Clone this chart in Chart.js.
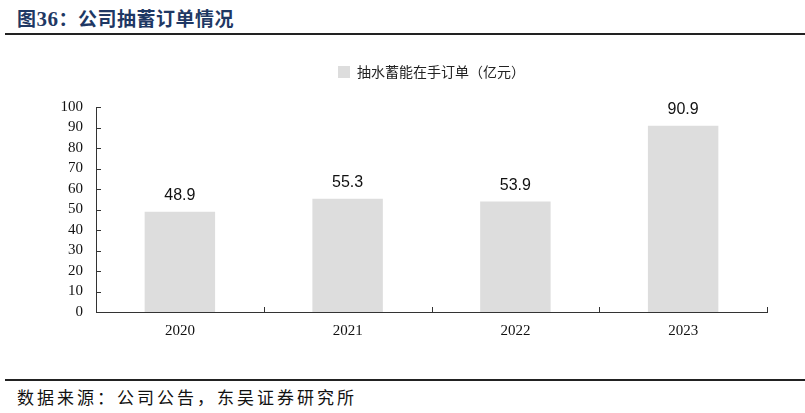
<!DOCTYPE html>
<html>
<head>
<meta charset="utf-8">
<script src="https://cdn.jsdelivr.net/npm/chart.js@4.4.1/dist/chart.umd.min.js"></script>
<style>
  html, body { margin: 0; padding: 0; background: #fff; }
  body { width: 805px; height: 413px; position: relative; overflow: hidden; }
  #title { position: absolute; left: 17px; top: 4px; font: bold 19px "Noto Sans CJK SC", sans-serif; color: #1f3864; letter-spacing: 0.5px; }
  #title .num { font-family: "Liberation Serif", serif; font-size: 21px; }
  #topline { position: absolute; left: 5px; right: 0; top: 33px; height: 2px; background: #222; }
  #botline { position: absolute; left: 5px; right: 0; top: 379px; height: 2px; background: #222; }
  #source { position: absolute; left: 17px; top: 384px; font: 17px "Noto Sans CJK SC", sans-serif; color: #111; letter-spacing: 3px; }
  #wrap { position: absolute; left: 0; top: 40px; width: 805px; height: 336px; }
</style>
</head>
<body>
<div id="title">图<span class="num">36</span>：公司抽蓄订单情况</div>
<div id="topline"></div>
<div id="wrap"><canvas id="barChart"></canvas></div>
<div id="botline"></div>
<div id="source">数据来源：公司公告，东吴证券研究所</div>
<script>
// Bar Chart

var years = ["2020", "2021", "2022", "2023"];
var orders = [48.9, 55.3, 53.9, 90.9];
var yTicks = [0, 10, 20, 30, 40, 50, 60, 70, 80, 90, 100];

// value labels above bars
var valueLabels = {
	id: 'valueLabels',
	afterDatasetsDraw: function(chart) {
		var c = chart.ctx;
		var meta = chart.getDatasetMeta(0);
		c.save();
		c.font = '16px "Liberation Sans", Arial, sans-serif';
		c.fillStyle = '#111';
		c.textAlign = 'center';
		c.textBaseline = 'bottom';
		meta.data.forEach(function(bar, i) {
			c.fillText(orders[i].toFixed(1), bar.x, bar.y - 8);
		});
		c.restore();
	}
};

// small ticks pointing into the plot
var innerTicks = {
	id: 'innerTicks',
	afterDraw: function(chart) {
		var c = chart.ctx;
		var x = chart.scales.x, y = chart.scales.y;
		c.save();
		c.strokeStyle = '#333';
		c.lineWidth = 1;
		c.beginPath();
		yTicks.forEach(function(v) {
			var py = Math.round(y.getPixelForValue(v)) + 0.5;
			c.moveTo(x.left, py);
			c.lineTo(x.left + 5, py);
		});
		for (var i = 0; i <= years.length; i++) {
			var px = Math.round(x.getPixelForValue(i - 0.5)) + 0.5;
			c.moveTo(px, y.bottom);
			c.lineTo(px, y.bottom - 5);
		}
		c.stroke();
		c.restore();
	}
};

var ctx = document.getElementById("barChart").getContext('2d');
var barChart = new Chart(ctx, {
	type: 'bar',
	data: {
		labels: years,
		datasets: [{
			label: '抽水蓄能在手订单（亿元）',
			data: orders,
			backgroundColor: '#dddddd',
			borderWidth: 0,
			barPercentage: 0.42,
			categoryPercentage: 1
		}]
	},
	options: {
		responsive: true,
		maintainAspectRatio: false,
		animation: false,
		layout: { padding: { left: 0, right: 38, top: 7, bottom: 0 } },
		plugins: {
			tooltip: { enabled: false },
			// empty title used as a spacer between legend and plot
			title: {
				display: true,
				text: '',
				weight: 500,
				padding: 0,
				font: { size: 15, lineHeight: 1.2 }
			},
			legend: {
				display: true,
				position: 'top',
				fullSize: false,
				labels: {
					boxWidth: 12,
					boxHeight: 12,
					padding: 18,
					color: '#222',
					font: { family: '"Noto Sans CJK SC", sans-serif', size: 14 }
				}
			}
		},
		scales: {
			x: {
				grid: { display: false, drawTicks: false },
				border: { display: true, color: '#333', width: 1 },
				ticks: {
					color: '#111',
					padding: 10,
					font: { family: '"Liberation Serif", serif', size: 15 }
				},
				afterFit: function(s) { s.height = 64; }
			},
			y: {
				min: 0,
				max: 100,
				grid: { display: false, drawTicks: false },
				border: { display: true, color: '#333', width: 1 },
				afterBuildTicks: function(s) {
					s.ticks = yTicks.map(function(v) { return { value: v }; });
				},
				ticks: {
					color: '#111',
					padding: 13,
					autoSkip: false,
					font: { family: '"Liberation Serif", serif', size: 15 }
				},
				afterFit: function(s) { s.width = 96; }
			}
		}
	},
	plugins: [valueLabels, innerTicks]
});
</script>
</body>
</html>
